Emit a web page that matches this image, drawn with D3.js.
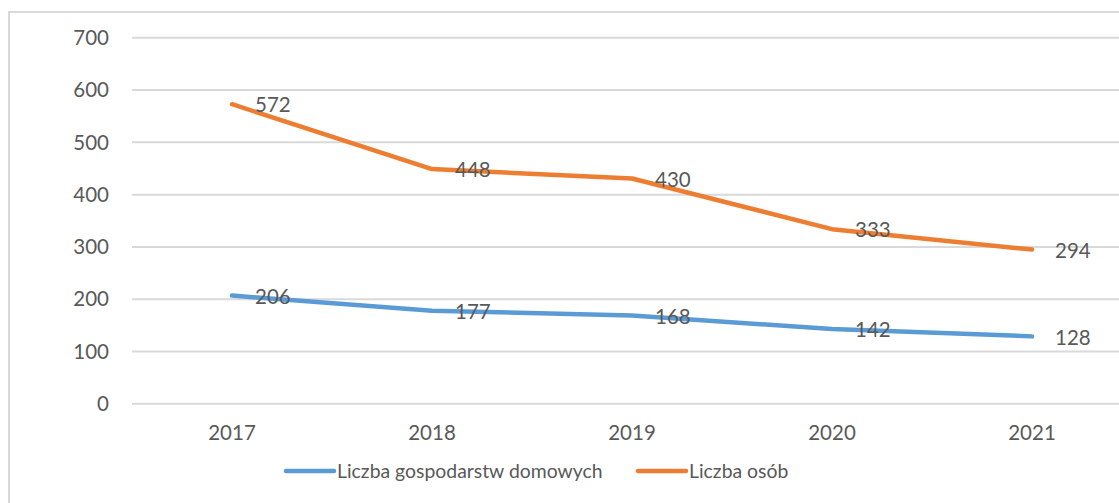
<!DOCTYPE html>
<html><head><meta charset="utf-8">
<script src="https://cdn.jsdelivr.net/npm/d3@7"></script>
<style>body{margin:0;background:#fff}svg{display:block}text{font-family:Lato,"Open Sans",sans-serif;fill:#595959}</style>
</head><body>
<svg id="c" width="1119" height="503"></svg>
<script>
const years = ["2017","2018","2019","2020","2021"];
const households = [206,177,168,142,128];
const persons = [572,448,430,333,294];
const yTicks = [0,100,200,300,400,500,600,700];
const seriesNames = ["Liczba gospodarstw domowych","Liczba osób"];
const colors = ["#5B9BD5","#ED7D31"];

const svg = d3.select("#c");
const fs = 20.5, fsLeg = 19.4;
// chart border
svg.append("rect").attr("x",9).attr("y",12).attr("width",1200).attr("height",600)
  .attr("fill","none").attr("stroke","#D9D9D9").attr("stroke-width",2);

const x = d3.scaleBand().domain(years).range([132,1132]);
const y = d3.scaleLinear().domain([0,700]).range([403.3,37.3]);

const gy = svg.append("g").attr("transform","translate(132,0)")
  .call(d3.axisLeft(y).tickValues(yTicks).tickSize(-1000).tickPadding(23));
gy.select(".domain").remove();
gy.selectAll(".tick line").attr("stroke","#D9D9D9").attr("stroke-width",2);
gy.selectAll(".tick text").attr("font-size",fs).attr("font-family","Lato").attr("fill","#595959").attr("dy","0.35em");

const gx = svg.append("g").attr("transform","translate(0,403.3)")
  .call(d3.axisBottom(x).tickSize(0).tickPadding(22));
gx.select(".domain").remove();
gx.selectAll(".tick text").attr("font-size",fs).attr("font-family","Lato").attr("fill","#595959");

const cx = d => x(d) + x.bandwidth()/2;
const line = d3.line().x((d,i)=>cx(years[i])).y(d=>y(d));
[households, persons].forEach((s,k)=>{
  svg.append("path").datum(s).attr("d",line).attr("fill","none")
    .attr("stroke",colors[k]).attr("stroke-width",4.5)
    .attr("stroke-linecap","round").attr("stroke-linejoin","round");
});
[households, persons].forEach((s,k)=>{
  svg.append("g").selectAll("text").data(s).join("text")
    .attr("x",(d,i)=>cx(years[i])+23).attr("y",d=>y(d)+1)
    .attr("dy","0.35em").attr("font-size",fs).text(d=>d);
});

// legend
const lg = svg.append("g");
const items = [{x:286,w:48},{x:638,w:48}];
seriesNames.forEach((n,k)=>{
  lg.append("line").attr("x1",items[k].x).attr("x2",items[k].x+items[k].w)
    .attr("y1",471).attr("y2",471).attr("stroke",colors[k]).attr("stroke-width",4.5).attr("stroke-linecap","round");
  lg.append("text").attr("x",items[k].x+items[k].w+3).attr("y",471).attr("dy","0.35em")
    .attr("font-size",fsLeg).text(n);
});
</script>
</body></html>
